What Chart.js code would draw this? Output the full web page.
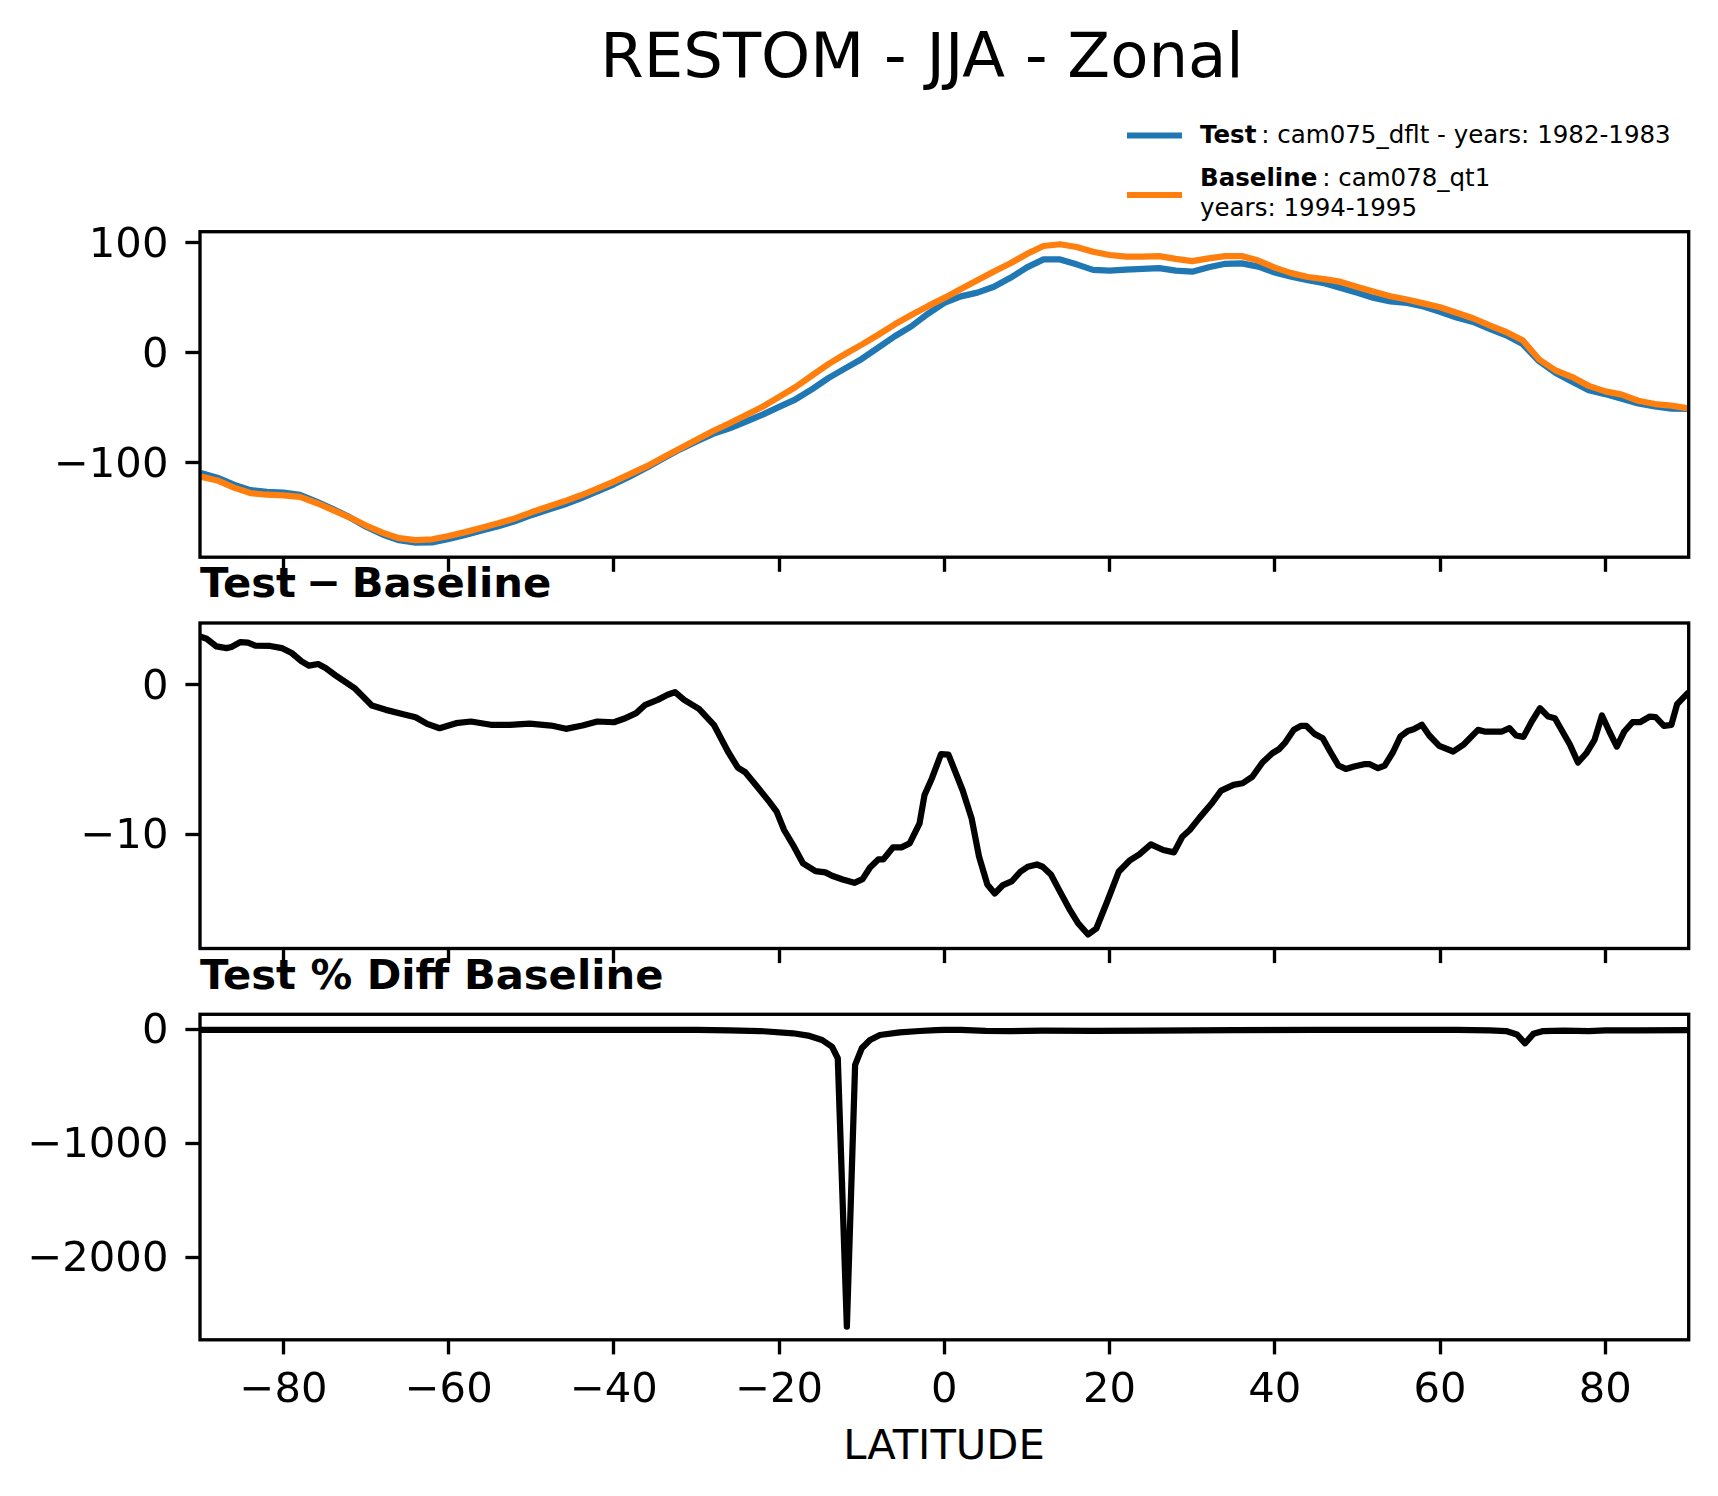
<!DOCTYPE html>
<html>
<head>
<meta charset="utf-8">
<title>RESTOM - JJA - Zonal</title>
<script src="https://cdn.jsdelivr.net/npm/chart.js@4/dist/chart.umd.min.js"></script>
<style>
  html, body { margin: 0; padding: 0; background: #fff; }
  #page { position: relative; width: 1718px; height: 1496px; background: #fff; overflow: hidden; }
  #page canvas { position: absolute; left: 0; }
  #labels { position: absolute; left: 0; top: 0; }
</style>
</head>
<body>
<div id="page">
  <svg id="labels" width="1718" height="1496" font-family="DejaVu Sans" fill="#000">
    <text x="922" y="77" font-size="62.5" text-anchor="middle">RESTOM - JJA - Zonal</text>
    <line x1="1127" y1="135.5" x2="1182" y2="135.5" stroke="#1f77b4" stroke-width="6"/>
    <text x="1200" y="143.3" font-size="24.5"><tspan font-weight="bold">Test</tspan>&#8201;: cam075_dflt - years: 1982-1983</text>
    <line x1="1127" y1="195" x2="1182" y2="195" stroke="#ff7f0e" stroke-width="6"/>
    <text x="1200" y="186" font-size="24.5"><tspan font-weight="bold">Baseline</tspan>&#8201;: cam078_qt1</text>
    <text x="1200" y="215.7" font-size="24.5">years: 1994-1995</text>
    <text x="200" y="597" font-size="41.7" font-weight="bold">Test&#8197;&#8722;&#8197;Baseline</text>
    <text x="200" y="988.5" font-size="41.7" font-weight="bold">Test % Diff Baseline</text>
    <text x="944" y="1459" font-size="41.7" text-anchor="middle">LATITUDE</text>
  </svg>
  <canvas id="c1" width="1718" height="520" style="top:172px"></canvas>
  <canvas id="c2" width="1718" height="520" style="top:563px"></canvas>
  <canvas id="c3" width="1718" height="520" style="top:954px"></canvas>
</div>
<script>
// top panel: zonal means on a 2 degree grid
var latZonal = [-90, -88, -86, -84, -82, -80, -78, -76, -74, -72, -70, -68, -66, -64, -62, -60,
	-58, -56, -54, -52, -50, -48, -46, -44, -42, -40, -38, -36, -34, -32, -30, -28, -26, -24,
	-22, -20, -18, -16, -14, -12, -10, -8, -6, -4, -2, 0, 2, 4, 6, 8, 10, 12, 14, 16, 18, 20,
	22, 24, 26, 28, 30, 32, 34, 36, 38, 40, 42, 44, 46, 48, 50, 52, 54, 56, 58, 60, 62, 64,
	66, 68, 70, 72, 74, 76, 78, 80, 82, 84, 86, 88, 90];
var testRestom = [-109.3, -113.5, -119.8, -124.8, -126.4, -127.1, -129.2, -135.2, -142.1, -149.4,
	-158.1, -165.1, -170.4, -172.5, -172.3, -169.3, -165.5, -161.6, -157.7, -153.2, -147.6, -142.7,
	-137.9, -132.3, -126, -119.5, -112.1, -104.3, -95.8, -87.7, -80.5, -73.6, -68.6, -62.4, -56.2,
	-49.1, -42.2, -33, -22.7, -14.1, -5.5, 4.8, 15.1, 24.1, 35.5, 45.4, 51.4, 54.8, 60.1, 68.3,
	77.8, 85, 85, 80.5, 75.5, 74.8, 75.7, 76.3, 77.1, 74.8, 73.8, 77.9, 81, 81.4, 78.4, 73.1,
	69.3, 66.2, 63.3, 59, 54.6, 50, 46.8, 45.5, 42.2, 37.4, 32.1, 28.2, 21.9, 16, 8, -7.6,
	-18.3, -26.2, -34, -37.5, -41.8, -46, -48.7, -50.6, -50.9];
var baseRestom = [-112.5, -116, -122.5, -127.5, -129, -129.5, -131, -136.5, -143, -149.5,
	-157, -163.5, -168.5, -170.3, -169.5, -166.5, -163, -159, -155, -150.5, -145, -140,
	-135, -129.5, -123.5, -117, -110, -103, -95, -87, -79, -71, -64, -56.5, -49,
	-40, -31, -20.5, -10, -1, 7.5, 16.5, 26, 34.5, 42.5, 50, 58, 66, 74, 81.5,
	90, 97.2, 98.8, 96.3, 92, 89, 87.5, 87.5, 88, 85.5, 83.5, 86, 88, 88, 84, 77.5,
	72.5, 69, 67, 64.5, 60, 55.5, 51.5, 48.5, 45, 41.5, 36.5, 31.5, 25, 19, 11.5, -6,
	-16, -22, -30, -35, -38, -43.5, -46.5, -48, -50.5];

// middle panel: test - baseline
var latDiff = [-90.1, -89.3, -88.1, -86.9, -86.3, -85.2, -84.3, -83.4, -81.6, -80.2, -79, -77.8,
	-76.9, -75.8, -74.9, -73.7, -71.4, -69.3, -67.6, -65.5, -64, -62.6, -61.1, -59.1, -57.3,
	-54.9, -52.6, -50.2, -47.6, -45.8, -43.8, -42, -40, -38.8, -37.3, -36.2, -34.7, -33.5,
	-32.6, -31.5, -29.7, -27.9, -26.2, -25, -24.1, -22.7, -21.2, -20.3, -19.4, -18.2, -17.1,
	-15.6, -14.4, -13.6, -12.3, -10.9, -9.9, -9, -8, -7.4, -6.2, -5.2, -4.2, -3, -2.4, -1.5,
	-0.4, 0.5, 2.2, 3.3, 4.2, 5.2, 6.1, 7.1, 8.2, 9.2, 10.1, 11.2, 11.9, 12.9, 13.9, 15.1,
	16.2, 17.4, 18.4, 19.7, 21.1, 22.4, 23.6, 25, 26.5, 27.8, 28.8, 29.7, 30.9, 32.3, 33.5,
	35, 36.1, 37.3, 38.5, 39.7, 40.5, 41.2, 42.3, 43.2, 43.8, 44.8, 45.8, 46.7, 47.7, 48.6,
	49.6, 50.8, 51.5, 52.5, 53.3, 54.3, 55.2, 56.1, 56.8, 57.8, 58.7, 59.9, 61.6, 62.8, 64.6,
	65.4, 67.5, 68.4, 69.2, 70.1, 71.1, 72.1, 73.1, 73.9, 75.7, 76.7, 77.7, 78.7, 79.6, 80.5,
	81.4, 82.3, 83.3, 84.2, 85.4, 86.1, 87.1, 88, 88.7, 90.1];
var diffRestom = [3.24, 3.09, 2.57, 2.46, 2.53, 2.86, 2.82, 2.62, 2.6, 2.46, 2.13, 1.57,
	1.28, 1.39, 1.12, 0.63, -0.22, -1.39, -1.68, -1.97, -2.17, -2.62, -2.91, -2.57, -2.46,
	-2.68, -2.68, -2.6, -2.73, -2.95, -2.73, -2.46, -2.51, -2.28, -1.9, -1.34, -1.01, -0.67,
	-0.49, -1.01, -1.61, -2.68, -4.47, -5.55, -5.86, -6.8, -7.83, -8.5, -9.73, -10.85, -11.97,
	-12.48, -12.57, -12.8, -13.05, -13.27, -13.02, -12.24, -11.7, -11.7, -10.89, -10.89, -10.63,
	-9.28, -7.38, -6.26, -4.65, -4.68, -7.05, -8.95, -11.52, -13.38, -13.98, -13.42, -13.15,
	-12.53, -12.19, -12.04, -12.19, -12.71, -13.76, -14.99, -15.99, -16.73, -16.33, -14.54,
	-12.53, -11.79, -11.36, -10.69, -11.07, -11.23, -10.18, -9.73, -8.9, -7.99, -7.09, -6.71,
	-6.6, -6.15, -5.21, -4.59, -4.32, -3.91, -3.02, -2.75, -2.75, -3.29, -3.58, -4.47, -5.41,
	-5.64, -5.48, -5.32, -5.32, -5.59, -5.41, -4.52, -3.47, -3.09, -2.98, -2.68, -3.4, -4.09,
	-4.47, -4.03, -3.02, -3.13, -3.13, -2.91, -3.4, -3.49, -2.46, -1.57, -2.13, -2.24, -3.98,
	-5.21, -4.59, -3.69, -2.06, -3.13, -4.14, -3.13, -2.51, -2.51, -2.13, -2.17, -2.75, -2.68,
	-1.3, -0.49];

// bottom panel: test % diff baseline
var latPct = [-90.1, -60, -40, -30, -26, -22.3, -18.3, -16.5, -14.8, -13.6, -12.9, -11.8, -10.8,
	-10, -9, -7.8, -5.4, -3, -1, 0, 2, 5, 8, 12, 18, 25, 35, 45, 55, 62, 66, 68, 69.3, 70.3,
	71.3, 72.5, 75, 78, 80, 84, 90.1];
var pctRestom = [-4, -4, -4, -6, -9, -15, -35, -55, -94, -153, -254, -2609, -313,
	-167, -94, -50, -27, -15, -8, -5, -6, -14, -15, -12, -14, -11, -7, -5, -6, -6, -10, -15, -45, -123,
	-40, -15, -12, -15, -9, -10, -7];

var xTicks = [-80, -60, -40, -20, 0, 20, 40, 60, 80];
var yTicksTop = [-100, 0, 100];
var yTicksDiff = [-10, 0];
var yTicksPct = [-2000, -1000, 0];

Chart.defaults.font.family = 'DejaVu Sans';
Chart.defaults.color = '#000';

function pairs(xs, ys) {
	return xs.map(function(x, i) {
		return { x: x, y: ys[i] };
	});
}

function minusLabel(value) {
	return value < 0 ? '\u2212' + Math.abs(value) : '' + value;
}

// full box round the axes, like matplotlib spines
var frame = {
	id: 'frame',
	afterDraw: function(chart) {
		var a = chart.chartArea;
		var ctx = chart.ctx;
		ctx.save();
		ctx.strokeStyle = '#000';
		ctx.lineWidth = 3.33;
		ctx.strokeRect(a.left, a.top, a.right - a.left, a.bottom - a.top);
		ctx.restore();
	}
};

function axisOpts(tickValues, showLabels, pad, offset) {
	return {
		afterBuildTicks: function(scale) {
			scale.ticks = tickValues.map(function(v) { return { value: v }; });
		},
		grid: { drawOnChartArea: false, drawTicks: true, tickLength: 14.6, tickWidth: 3.33, tickColor: '#000' },
		border: { display: false },
		ticks: {
			display: showLabels,
			padding: pad,
			labelOffset: offset,
			color: '#000',
			font: { size: 41.7 },
			maxRotation: 0,
			autoSkip: false,
			callback: minusLabel
		}
	};
}

function drawPanel(id, datasets, yMin, yMax, yTicks, showX, padTop) {
	var x = axisOpts(xTicks, showX, 12, 0);
	x.type = 'linear';
	x.min = -90.1;
	x.max = 90.1;
	x.afterFit = function(scale) { scale.height = 100; };

	var y = axisOpts(yTicks, true, 17, 3);
	y.min = yMin;
	y.max = yMax;
	y.afterFit = function(scale) { scale.width = 200; };

	return new Chart(document.getElementById(id), {
		type: 'line',
		data: { datasets: datasets },
		plugins: [frame],
		options: {
			responsive: false,
			animation: false,
			devicePixelRatio: 1,
			layout: { padding: { top: padTop, right: 29.3, left: 0, bottom: 520 - padTop - 325.5 - 100 } },
			plugins: { legend: { display: false }, tooltip: { enabled: false }, title: { display: false } },
			elements: {
				point: { radius: 0 },
				line: { tension: 0, borderWidth: 6.25, borderJoinStyle: 'round', borderCapStyle: 'butt', fill: false }
			},
			scales: { x: x, y: y }
		}
	});
}

drawPanel('c1', [
	{ label: 'Test', data: pairs(latZonal, testRestom), borderColor: '#1f77b4', order: 1 },
	{ label: 'Baseline', data: pairs(latZonal, baseRestom), borderColor: '#ff7f0e', order: 0 }
], -185.8, 110.2, yTicksTop, false, 59.7);

drawPanel('c2', [
	{ label: 'Test - Baseline', data: pairs(latDiff, diffRestom), borderColor: '#000' }
], -17.67, 4.14, yTicksDiff, false, 60);

drawPanel('c3', [
	{ label: 'Test % Diff Baseline', data: pairs(latPct, pctRestom), borderColor: '#000' }
], -2725, 131.6, yTicksPct, true, 60.3);
</script>
</body>
</html>
